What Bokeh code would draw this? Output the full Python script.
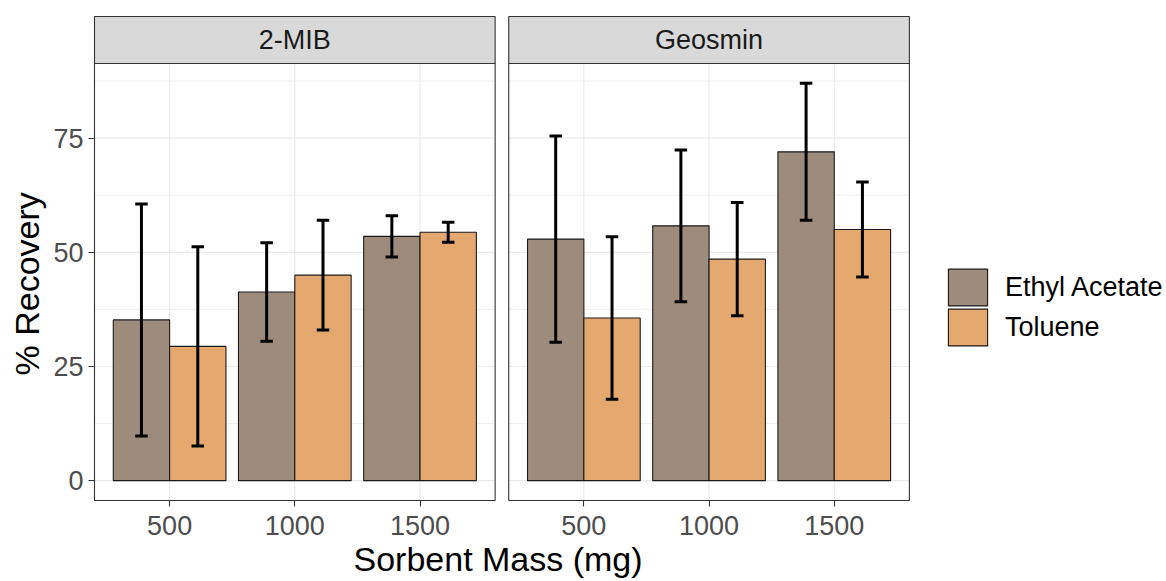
import math
from bokeh.plotting import figure
from bokeh.models import (ColumnDataSource, FixedTicker, Legend, LegendItem, Title,
                          CustomJSTickFormatter, Range1d)
from bokeh.core.properties import value
from bokeh.embed import file_html
from bokeh.resources import INLINE

# ---------------- data ----------------
compounds = ["2-MIB", "Geosmin"]
masses = ["500", "1000", "1500"]
solvents = ["Ethyl Acetate", "Toluene"]

mib_ea_mean = [35.2, 41.3, 53.5]
mib_ea_err = [25.4, 10.8, 4.5]
mib_tol_mean = [29.4, 45.0, 54.4]
mib_tol_err = [21.8, 12.0, 2.2]

geo_ea_mean = [52.9, 55.8, 72.0]
geo_ea_err = [22.6, 16.6, 15.0]
geo_tol_mean = [35.6, 48.5, 55.0]
geo_tol_err = [17.8, 12.4, 10.4]

y_ticks = [0, 25, 50, 75]
y_minor = [12.5, 37.5, 62.5, 87.5]

colors = {"Ethyl Acetate": "#9D8C7C", "Toluene": "#E5A970"}
FONT = "Liberation Sans"

# ---------------- layout constants ----------------
W, H = 1166, 581
ML, MB, MT = 92, 79, 14          # frame margins
FW, FH = W - ML, H - MB - MT      # frame size
PX_U = 125.2                      # pixels per category unit
PAD = 2 / PX_U                    # frame inset in units (x)
panel_w = 3.2                     # 0.4 .. 3.6
gap = 13.6 / PX_U
offsets = [0.0, panel_w + gap]

means = {("2-MIB", "Ethyl Acetate"): (mib_ea_mean, mib_ea_err),
         ("2-MIB", "Toluene"): (mib_tol_mean, mib_tol_err),
         ("Geosmin", "Ethyl Acetate"): (geo_ea_mean, geo_ea_err),
         ("Geosmin", "Toluene"): (geo_tol_mean, geo_tol_err)}

ymax = max(m + e for (mm, ee) in means.values() for m, e in zip(mm, ee))
lo, hi = -0.05 * ymax, 1.05 * ymax
panel_px = 437.0
upx = (hi - lo) / panel_px        # data units per pixel (y)
y_start = lo - 2 * upx
y_end = y_start + FH * upx
strip_top = hi + 47 * upx

x_start = 0.4 - PAD
x_end = x_start + FW / PX_U

p = figure(width=W, height=H, output_backend="svg", toolbar_location=None,
           x_range=Range1d(x_start, x_end), y_range=Range1d(y_start, y_end),
           min_border_left=ML, min_border_right=0, min_border_top=MT, min_border_bottom=MB)
p.outline_line_color = None
p.grid.visible = False
p.background_fill_color = "white"
p.border_fill_color = "white"

# ---------------- grid, panels, strips ----------------
for k, comp in enumerate(compounds):
    off = offsets[k]
    px0, px1 = off + 0.4, off + 0.4 + panel_w
    p.segment(x0=[px0] * len(y_minor), x1=[px1] * len(y_minor), y0=y_minor, y1=y_minor,
              line_color="#EBEBEB", line_width=0.8)
    p.segment(x0=[px0] * len(y_ticks), x1=[px1] * len(y_ticks), y0=y_ticks, y1=y_ticks,
              line_color="#EBEBEB", line_width=1.2)
    vx = [off + i + 1 for i in range(len(masses))]
    p.segment(x0=vx, x1=vx, y0=[lo] * len(vx), y1=[hi] * len(vx), line_color="#EBEBEB", line_width=1.2)
    p.quad(left=[px0], right=[px1], bottom=[hi], top=[strip_top], fill_color="#D9D9D9",
           line_color="#333333", line_width=1.1)
    p.text(x=[(px0 + px1) / 2], y=[(hi + strip_top) / 2], text=[comp], text_align="center",
           text_baseline="middle", text_font=value(FONT), text_font_size="27px", text_color="#1A1A1A")

# ---------------- bars and error bars ----------------
renderers = {}
for j, solv in enumerate(solvents):
    xs, tops, lows, highs = [], [], [], []
    for k, comp in enumerate(compounds):
        mm, ee = means[(comp, solv)]
        for i in range(len(masses)):
            xs.append(offsets[k] + i + 1 + (-0.225 if j == 0 else 0.225))
            tops.append(mm[i])
            lows.append(mm[i] - ee[i])
            highs.append(mm[i] + ee[i])
    src = ColumnDataSource(dict(x=xs, top=tops, low=lows, high=highs,
                                cl=[x - 0.05 for x in xs], cr=[x + 0.05 for x in xs]))
    renderers[solv] = p.vbar(x="x", top="top", bottom=0, width=0.45, source=src,
                             fill_color=colors[solv], line_color="#1A1A1A", line_width=1.1)
for j, solv in enumerate(solvents):
    src = renderers[solv].data_source
    p.segment(x0="x", x1="x", y0="low", y1="high", source=src, line_color="black", line_width=3)
    p.segment(x0="cl", x1="cr", y0="low", y1="low", source=src, line_color="black", line_width=3)
    p.segment(x0="cl", x1="cr", y0="high", y1="high", source=src, line_color="black", line_width=3)

# panel borders on top
for k in range(len(compounds)):
    off = offsets[k]
    p.quad(left=[off + 0.4], right=[off + 0.4 + panel_w], bottom=[lo], top=[hi],
           fill_color=None, line_color="#333333", line_width=1.1)

# ---------------- axes ----------------
tick_pos = [offsets[k] + i + 1 for k in range(len(compounds)) for i in range(len(masses))]
tick_labels = [m for k in range(len(compounds)) for m in masses]
xa = p.xaxis[0]
xa.ticker = FixedTicker(ticks=tick_pos)
xa.formatter = CustomJSTickFormatter(args=dict(pos=tick_pos, labs=tick_labels), code="""
let best = 0;
for (let i = 0; i < pos.length; i++) { if (Math.abs(pos[i] - tick) < Math.abs(pos[best] - tick)) best = i; }
return labs[best];
""")
ya = p.yaxis[0]
ya.ticker = FixedTicker(ticks=y_ticks)
for ax in (xa, ya):
    ax.axis_line_color = None
    ax.major_tick_line_color = "#333333"
    ax.major_tick_line_width = 1.1
    ax.major_tick_in = 2
    ax.major_tick_out = 4
    ax.minor_tick_line_color = None
    ax.major_label_text_font = FONT
    ax.major_label_text_font_size = "27px"
    ax.major_label_text_color = "#4D4D4D"
xa.major_label_standoff = 9
ya.major_label_standoff = 5

# axis titles, centred on the panel area (as in the facetted original)
p.add_layout(Title(text="Sorbent Mass (mg)", align="left", offset=261, standoff=0,
                   text_font=FONT, text_font_size="34px", text_font_style="normal",
                   text_color="black"), "below")
p.add_layout(Title(text="% Recovery", align="left", offset=127, standoff=10,
                   text_font=FONT, text_font_size="34px", text_font_style="normal",
                   text_color="black"), "left")

for s, ly in zip(solvents, [192, 152]):
    p.add_layout(Legend(items=[LegendItem(label=s, renderers=[renderers[s]])],
                        location=(851, ly), glyph_width=49, glyph_height=46, spacing=0,
                        label_standoff=13, padding=0, margin=0, border_line_color=None,
                        background_fill_alpha=0, label_text_font=FONT,
                        label_text_font_size="27px", label_text_color="black"))

open("out.html", "w").write(file_html(p, INLINE))
